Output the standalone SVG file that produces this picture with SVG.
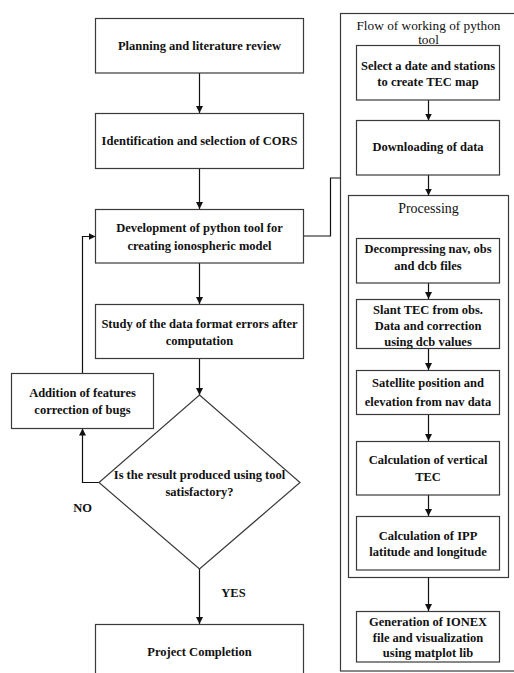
<svg xmlns="http://www.w3.org/2000/svg" width="514" height="673" viewBox="0 0 514 673" font-family="'Liberation Serif', 'DejaVu Serif', serif">
  <style>
    .box { fill: #ffffff; stroke: #3a3a3a; stroke-width: 1.2; }
    .frame { fill: none; stroke: #3a3a3a; stroke-width: 1.2; }
    .link { fill: none; stroke: #111111; stroke-width: 1.2; }
    .arrow { fill: none; stroke: #111111; stroke-width: 1.2; marker-end: url(#head); }
    text { fill: #111111; text-anchor: middle; }
    .b { font-weight: bold; font-size: 12.5px; }
    .r { font-size: 13.3px; }
  </style>
  <defs>
    <marker id="head" markerUnits="userSpaceOnUse" markerWidth="7" markerHeight="7" refX="7" refY="3.5" orient="auto">
      <path d="M0,0 L7,3.5 L0,7 z" fill="#111111"/>
    </marker>
  </defs>
  <rect width="514" height="673" fill="#ffffff"/>

  <!-- containers on the right -->
  <g id="flow-frame">
    <rect class="frame" x="340.5" y="13.5" width="185" height="657.5"/>
    <text class="r" x="428.5" y="30">Flow of working of python</text>
    <text class="r" x="428.5" y="43.5">tool</text>
  </g>
  <g id="processing-frame">
    <rect class="frame" x="348.5" y="195.5" width="160" height="382"/>
    <text class="r" x="428.5" y="213" style="font-size:14px">Processing</text>
  </g>

  <!-- connectors -->
  <g id="connectors">
    <line class="arrow" x1="199.5" y1="73" x2="199.5" y2="113"/>
    <line class="arrow" x1="199.5" y1="168" x2="199.5" y2="209"/>
    <line class="arrow" x1="199.5" y1="263" x2="199.5" y2="304"/>
    <line class="arrow" x1="199.5" y1="358" x2="199.5" y2="395"/>
    <line class="arrow" x1="199.5" y1="569" x2="199.5" y2="624"/>
    <polyline class="arrow" points="99,482.5 82.5,482.5 82.5,428.5"/>
    <polyline class="arrow" points="82.5,373.5 82.5,236.5 95.5,236.5"/>
    <polyline class="link" points="303.5,236 330.5,236 330.5,178 340.5,178"/>
    <line class="arrow" x1="428.5" y1="100" x2="428.5" y2="120.5"/>
    <line class="arrow" x1="428.5" y1="175" x2="428.5" y2="195.5"/>
    <line class="arrow" x1="428.5" y1="283" x2="428.5" y2="299"/>
    <line class="arrow" x1="428.5" y1="348.5" x2="428.5" y2="370"/>
    <line class="arrow" x1="428.5" y1="414.5" x2="428.5" y2="441"/>
    <line class="arrow" x1="428.5" y1="495" x2="428.5" y2="516"/>
    <line class="arrow" x1="428.5" y1="577.5" x2="428.5" y2="611"/>
  </g>

  <!-- main flow -->
  <g id="planning">
    <rect class="box" x="95.5" y="18.5" width="208" height="54.5"/>
    <text class="b" x="199.5" y="50">Planning and literature review</text>
  </g>
  <g id="cors">
    <rect class="box" x="95.5" y="113.5" width="208" height="55"/>
    <text class="b" x="199.5" y="145">Identification and selection of CORS</text>
  </g>
  <g id="development">
    <rect class="box" x="95.5" y="209.5" width="208" height="53.5"/>
    <text class="b" x="199.5" y="231.5">Development of python tool for</text>
    <text class="b" x="199.5" y="250">creating ionospheric model</text>
  </g>
  <g id="study">
    <rect class="box" x="95.5" y="304.5" width="208" height="54"/>
    <text class="b" x="199.5" y="327.5">Study of the data format errors after</text>
    <text class="b" x="199.5" y="344.5">computation</text>
  </g>
  <g id="fixes">
    <rect class="box" x="11.5" y="373.5" width="142" height="55"/>
    <text class="b" x="82.5" y="397">Addition of features</text>
    <text class="b" x="82.5" y="413.5">correction of bugs</text>
  </g>
  <g id="decision">
    <polygon class="box" points="199.5,395 300,482.5 199.5,569 99,482.5"/>
    <text class="b" x="199.5" y="478.5">Is the result produced using tool</text>
    <text class="b" x="199.5" y="495.5">satisfactory?</text>
  </g>
  <g id="label-no">
    <text class="b" x="82.5" y="512">NO</text>
  </g>
  <g id="label-yes">
    <text class="b" x="233.5" y="597">YES</text>
  </g>
  <g id="completion">
    <rect class="box" x="95.5" y="624.5" width="208" height="60"/>
    <text class="b" x="199.5" y="656">Project Completion</text>
  </g>

  <!-- python tool steps -->
  <g id="select">
    <rect class="box" x="356.5" y="45.5" width="143" height="54.5"/>
    <text class="b" x="428" y="69.5">Select a date and stations</text>
    <text class="b" x="428" y="86">to create TEC map</text>
  </g>
  <g id="download">
    <rect class="box" x="356.5" y="120.5" width="143" height="54.5"/>
    <text class="b" x="428" y="151">Downloading of data</text>
  </g>
  <g id="decompress">
    <rect class="box" x="356.5" y="238.5" width="143" height="44.5"/>
    <text class="b" x="428" y="252.5">Decompressing nav, obs</text>
    <text class="b" x="428" y="269.5">and dcb  files</text>
  </g>
  <g id="slant">
    <rect class="box" x="356.5" y="299.5" width="143" height="49"/>
    <text class="b" x="428" y="313.5">Slant TEC from obs.</text>
    <text class="b" x="428" y="330">Data and correction</text>
    <text class="b" x="428" y="345.5">using dcb values</text>
  </g>
  <g id="satellite">
    <rect class="box" x="356.5" y="370.5" width="143" height="44"/>
    <text class="b" x="428" y="387">Satellite position and</text>
    <text class="b" x="428" y="405.5">elevation from nav data</text>
  </g>
  <g id="vertical">
    <rect class="box" x="356.5" y="441.5" width="143" height="53.5"/>
    <text class="b" x="428" y="463.5">Calculation of vertical</text>
    <text class="b" x="428" y="480.5">TEC</text>
  </g>
  <g id="ipp">
    <rect class="box" x="356.5" y="516.5" width="143" height="53.5"/>
    <text class="b" x="428" y="539.5">Calculation of IPP</text>
    <text class="b" x="428" y="556">latitude and longitude</text>
  </g>
  <g id="ionex">
    <rect class="box" x="356.5" y="611.5" width="143" height="50.5"/>
    <text class="b" x="428" y="626">Generation of IONEX</text>
    <text class="b" x="428" y="641.5">file and visualization</text>
    <text class="b" x="428" y="657">using matplot lib</text>
  </g>
</svg>
